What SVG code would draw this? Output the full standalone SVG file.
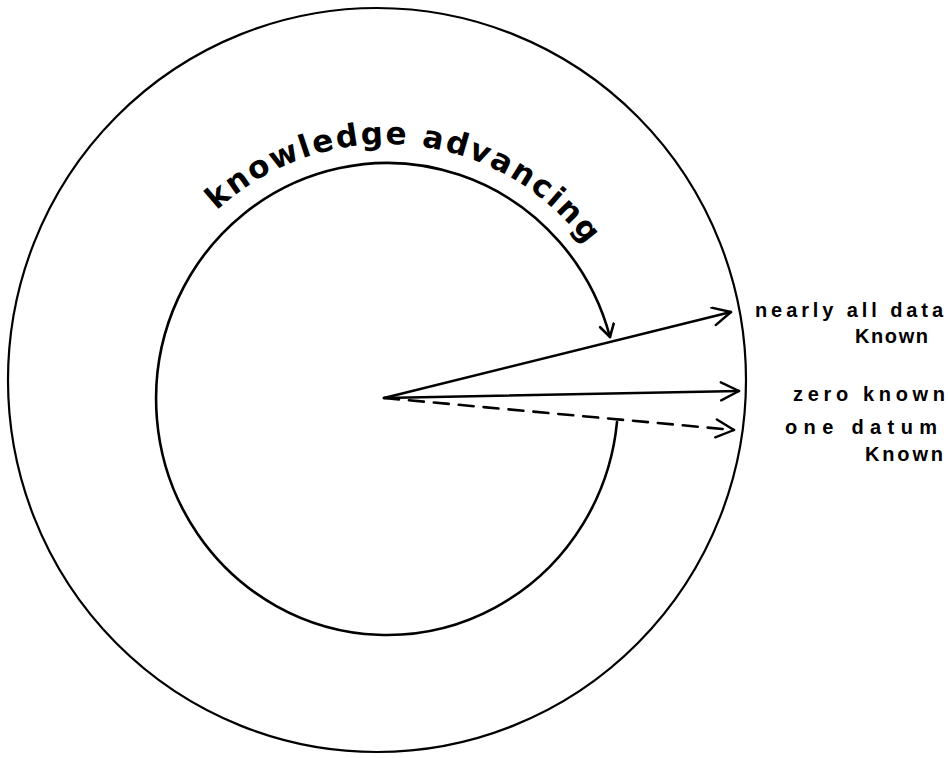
<svg xmlns="http://www.w3.org/2000/svg" width="950" height="758" viewBox="0 0 950 758">
<style>
.ln{fill:none;stroke:#000;stroke-width:2.6;stroke-linecap:round;stroke-linejoin:round}
.ring{fill:none;stroke:#000;stroke-width:2.2}
.lbl{font-family:"Liberation Sans","DejaVu Sans",sans-serif;font-size:20px;fill:#000;font-weight:bold}
.arc{font-family:"DejaVu Sans","Liberation Sans",sans-serif;font-size:31px;font-weight:bold;fill:#000}
</style>
<defs>
<marker id="ah" markerWidth="24" markerHeight="24" refX="20" refY="10" orient="auto" markerUnits="userSpaceOnUse">
<path d="M2,1 L20,10 L2,19" fill="none" stroke="#000" stroke-width="2.4" stroke-linecap="round" stroke-linejoin="round"/>
</marker>
<marker id="ahs" markerWidth="20" markerHeight="20" refX="14" refY="8" orient="auto" markerUnits="userSpaceOnUse">
<path d="M2,1 L14,8 L2,15" fill="none" stroke="#000" stroke-width="2.6" stroke-linecap="round" stroke-linejoin="round"/>
</marker>
<path id="tp" d="M136,396 A250,252 0 0 1 636,396"/>
</defs>
<g id="outer-circle"><ellipse class="ring" cx="377" cy="380" rx="369" ry="372"/></g>
<g id="knowledge-advancing">
<path class="ln" d="M617,422 A231,236 0 1 1 610,337" marker-end="url(#ahs)"/>
<text class="arc"><textPath href="#tp" startOffset="208" textLength="418" lengthAdjust="spacing">knowledge  advancing</textPath></text>
</g>
<g id="connectors">
<line class="ln" x1="384" y1="398" x2="731" y2="312" marker-end="url(#ah)"/>
<line class="ln" x1="384" y1="398" x2="739" y2="391" marker-end="url(#ah)"/>
<line class="ln" x1="384" y1="398" x2="734" y2="430" stroke-dasharray="15,10" marker-end="url(#ah)"/>
</g>
<g id="label-nearly-all">
<text class="lbl" x="755" y="317" textLength="188" lengthAdjust="spacing">nearly all data</text>
<text class="lbl" x="855" y="343" textLength="73" lengthAdjust="spacing">Known</text>
</g>
<g id="label-zero">
<text class="lbl" x="793" y="401" textLength="152" lengthAdjust="spacing">zero  known</text>
</g>
<g id="label-one">
<text class="lbl" x="785" y="434" textLength="152" lengthAdjust="spacing">one  datum</text>
<text class="lbl" x="865" y="461" textLength="78" lengthAdjust="spacing">Known</text>
</g>
</svg>
